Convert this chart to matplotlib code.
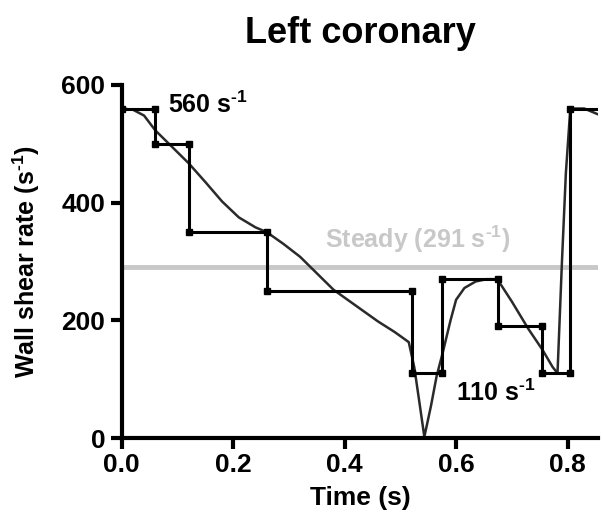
# Left coronary: Wandschubrate ueber die Zeit, Stufenmodell vs. Kurve
import matplotlib
matplotlib.use("Agg")
import matplotlib.pyplot as plt

plt.rcParams["font.family"] = ["Liberation Sans", "DejaVu Sans"]
plt.rcParams["font.weight"] = "bold"
plt.rcParams["mathtext.fontset"] = "custom"
plt.rcParams["mathtext.rm"] = "Liberation Sans:bold"
plt.rcParams["mathtext.bf"] = "Liberation Sans:bold"

# Stufenmodell (Stufen beginnen bei stufe_t)
stufe_t = [0.0, 0.06, 0.12, 0.26, 0.52, 0.575, 0.675, 0.755, 0.805]
stufe_w = [560, 500, 350, 250, 110, 270, 190, 110, 560]
t_ende = 0.855

# gemessene Kurve
kurve_t = [0.0, 0.02, 0.04, 0.06, 0.09, 0.12, 0.15, 0.18, 0.21, 0.24, 0.26,
           0.29, 0.32, 0.35, 0.38, 0.42, 0.46, 0.49, 0.515, 0.525, 0.535,
           0.543, 0.555, 0.565, 0.576, 0.59, 0.60, 0.615, 0.635, 0.655, 0.674,
           0.70, 0.73, 0.755, 0.773, 0.782, 0.79, 0.797, 0.805, 0.83, 0.855]
kurve_w = [560, 558, 548, 523, 495, 467, 435, 402, 375, 358, 350,
           330, 308, 280, 252, 225, 198, 180, 163, 120, 55,
           2, 55, 105, 145, 200, 235, 255, 266, 270, 270,
           232, 185, 150, 121, 110, 300, 450, 560, 560, 550]

steady = 291

sup = "$^{\\text{-1}}$"

fig = plt.figure(figsize=(6.03, 5.12), dpi=100)
ax = fig.add_axes([0.202, 0.1445, 0.790, 0.6895])

# Steady-Linie
ax.axhline(steady, color="#c8c8c8", linewidth=3.5, zorder=1)
ax.text(0.364, 337, "Steady (291 s" + sup + ")", color="#c8c8c8",
        fontsize=18, fontweight="bold", va="center")

# Kurve
ax.plot(kurve_t, kurve_w, color="#2a2a2a", linewidth=1.8, zorder=2)

# Stufen
st_x = stufe_t + [t_ende]
st_y = stufe_w + [stufe_w[-1]]
ax.step(st_x, st_y, where="post", color="black", linewidth=2.2, zorder=3)
mx, my = [], []
for i in range(len(stufe_t) - 1):
    mx += [stufe_t[i], stufe_t[i + 1]]
    my += [stufe_w[i], stufe_w[i]]
mx.append(stufe_t[-1])
my.append(stufe_w[-1])
ax.plot(mx, my, "s", color="black", markersize=5, zorder=4)

ax.text(0.083, 566, "560 s" + sup, fontsize=18, fontweight="bold",
        va="center")
ax.text(0.60, 76, "110 s" + sup, fontsize=18, fontweight="bold",
        va="center")

ax.set_xlim(0, t_ende)
ax.set_ylim(0, 600)
ax.set_xticks([0.0, 0.2, 0.4, 0.6, 0.8])
ax.set_xticklabels(["0.0", "0.2", "0.4", "0.6", "0.8"])
ax.set_yticks([0, 200, 400, 600])

for s in ["top", "right"]:
    ax.spines[s].set_visible(False)
for s in ["left", "bottom"]:
    ax.spines[s].set_linewidth(3)
ax.tick_params(width=3, length=8, labelsize=19)
ax.tick_params(axis="x", pad=3)
ax.tick_params(axis="y", pad=4)
for lab in ax.get_xticklabels() + ax.get_yticklabels():
    lab.set_fontweight("bold")

ax.set_xlabel("Time (s)", fontsize=19, fontweight="bold", labelpad=6)
ax.set_ylabel("Wall shear rate (s" + sup + ")", fontsize=18,
              fontweight="bold", labelpad=14)
ax.set_title("Left coronary", fontsize=26, fontweight="bold", pad=30)

fig.savefig("out.png", dpi=100)
